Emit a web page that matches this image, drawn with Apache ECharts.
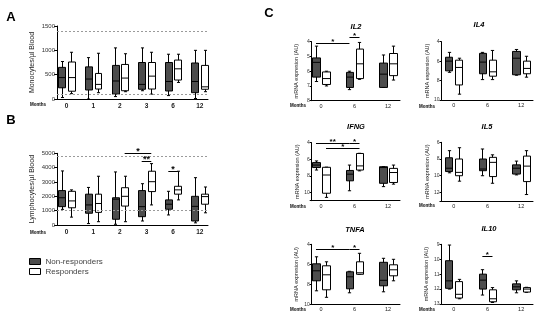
<!DOCTYPE html>
<html><head><meta charset="utf-8">
<script src="https://cdn.jsdelivr.net/npm/echarts@6/dist/echarts.min.js"></script>
<style>html,body{margin:0;padding:0;background:#fff}#c{width:550px;height:328px}</style>
</head><body><div id="c"></div>
<script>
// ---------- DATA ----------
const monthsAB = ['0', '1', '2', '3', '6', '12'];
const monthsC = ['0', '6', '12'];
// box statistics: [min, Q1, median, Q3, max]
const monoNon  = [[30,230,440,650,770],[0,185,410,660,850],[50,100,370,690,1050],[170,200,300,750,1050],[70,165,360,750,920],[10,130,360,740,1000]];
const monoResp = [[110,160,440,760,960],[130,205,300,525,940],[150,170,430,710,930],[100,205,470,750,960],[340,390,620,800,920],[150,200,250,690,1000]];
const monoRefs = [1400, 100];
const lymphNon  = [[1090,1280,1900,2400,3770],[100,820,1400,2150,2620],[50,400,1800,1900,3700],[280,580,1280,2400,2880],[700,1100,1450,1750,2350],[150,280,1300,2000,3300]];
const lymphResp = [[550,1200,1680,2350,2450],[230,880,1500,2150,3400],[230,1320,2000,2600,3400],[1400,2330,3020,3750,4280],[1750,2150,2450,2700,3750],[850,1450,1980,2150,2650]];
const lymphRefs = [4800, 1000];
const il2Non   = [[4.3,5.1,5.4,6.4,6.7],[6.0,6.08,6.4,7.1,7.25],[4.9,5.45,6.2,7.1,7.1]];
const il2Resp  = [[6.0,6.05,6.5,6.9,7.0],[4.05,4.5,5.5,6.5,6.55],[4.3,4.8,5.5,6.3,6.6]];
const il4Non   = [[5.1,5.6,6.0,7.0,7.15],[5.1,5.2,6.1,7.3,7.9],[4.8,5.0,5.7,7.4,7.45]];
const il4Resp  = [[5.7,5.9,6.65,8.45,9.4],[4.9,5.9,7.1,7.55,7.9],[5.5,6.0,6.75,7.3,7.65]];
const ifngNon  = [[6.2,6.4,6.7,7.0,7.3],[6.7,7.35,7.8,8.6,9.8],[6.88,6.9,7.0,8.9,9.3]];
const ifngResp = [[6.95,6.97,7.9,10.1,10.6],[5.28,5.3,6.8,7.3,7.4],[6.7,7.1,7.6,8.8,9.0]];
const il5Non   = [[7.0,7.85,9.1,9.5,9.65],[6.8,8.0,9.2,9.4,10.0],[8.25,8.7,9.1,9.8,9.9]];
const il5Resp  = [[6.65,8.0,9.6,10.0,10.65],[7.5,7.8,8.4,10.1,10.9],[7.0,7.65,8.85,10.7,12.25]];
const tnfaNon  = [[5.25,5.95,6.65,7.65,8.65],[6.7,6.75,7.25,8.45,8.85],[5.4,5.8,7.6,8.15,8.75]];
const tnfaResp = [[5.75,6.15,7.05,8.55,9.3],[4.9,5.75,6.85,7.0,7.0],[5.5,6.05,6.55,7.15,7.65]];
const il10Non  = [[9.05,10.1,11.45,11.95,12.0],[10.7,11.0,11.4,12.0,12.4],[11.45,11.65,11.85,12.05,12.25]];
const il10Resp = [[11.35,11.5,12.35,12.6,12.65],[11.9,12.05,12.65,12.85,12.9],[11.88,11.9,12.0,12.2,12.22]];
// significance: [category1, side1 (-1 non / +1 resp), category2, side2, value, label]
const sigLymph = [[2,1,3,1,5050,'*'],[3,-1,3,1,4450,'**'],[4,-1,4,1,3800,'*']];
const sigIL2  = [[0,-1,1,-1,4.07,'*'],[1,-1,1,1,3.7,'*']];
const sigIFNG = [[0,-1,1,-1,4.07,'**'],[0,1,1,1,4.67,'*'],[1,-1,1,1,4.0,'*']];
const sigTNFA = [[0,-1,1,-1,4.5,'*'],[1,-1,1,1,4.5,'*']];
const sigIL10 = [[1,-1,1,1,9.77,'*']];
const seriesNames = ['Non-responders', 'Responders'];

// ---------- LAYOUT ----------
const FONT = '"Liberation Sans", Arial, sans-serif';
const DARK = '#4d4d4d';
const mrna = 'mRNA expresion (AU)';
const panels = [
  {left:57, top:26, width:151, height:73, xmin:-0.36, xmax:5.31, ymin:0, ymax:1500, interval:500, inverse:false,
   cats:monthsAB, non:monoNon, resp:monoResp, refs:monoRefs, sig:[], yname:'Monocytes/µl Blood', nameGap:21, nameFs:7,
   off:0.18, bw:0.26, big:true},
  {left:57, top:153.3, width:151, height:71.7, xmin:-0.36, xmax:5.31, ymin:0, ymax:5000, interval:1000, inverse:false,
   cats:monthsAB, non:lymphNon, resp:lymphResp, refs:lymphRefs, sig:sigLymph, yname:'Lymphocytes/µl Blood', nameGap:21, nameFs:7,
   off:0.18, bw:0.26, big:true},
  {left:311.7, top:41.7, width:88.3, height:59, xmin:-0.278, xmax:2.36, ymin:4, ymax:8, interval:1, inverse:true,
   cats:monthsC, non:il2Non, resp:il2Resp, refs:[], sig:sigIL2, yname:mrna, nameGap:12, nameFs:5.5, off:0.15, bw:0.22},
  {left:441.5, top:41.7, width:91.5, height:58.3, xmin:-0.36, xmax:2.35, ymin:4, ymax:10, interval:2, inverse:true,
   cats:monthsC, non:il4Non, resp:il4Resp, refs:[], sig:[], yname:mrna, nameGap:7, nameFs:5.5, off:0.15, bw:0.22},
  {left:311.7, top:142.7, width:88.3, height:58, xmin:-0.278, xmax:2.36, ymin:4, ymax:11, interval:2, inverse:true,
   cats:monthsC, non:ifngNon, resp:ifngResp, refs:[], sig:sigIFNG, yname:mrna, nameGap:11, nameFs:5.5, off:0.15, bw:0.22},
  {left:441.5, top:142.3, width:91.5, height:58.5, xmin:-0.36, xmax:2.35, ymin:6, ymax:13, interval:2, inverse:true,
   cats:monthsC, non:il5Non, resp:il5Resp, refs:[], sig:[], yname:mrna, nameGap:9, nameFs:5.5, off:0.15, bw:0.22},
  {left:311.7, top:244.3, width:88.3, height:60, xmin:-0.278, xmax:2.36, ymin:4, ymax:10, interval:2, inverse:true,
   cats:monthsC, non:tnfaNon, resp:tnfaResp, refs:[], sig:sigTNFA, yname:mrna, nameGap:12, nameFs:5.5, off:0.15, bw:0.22},
  {left:441.5, top:244.3, width:91.5, height:59.7, xmin:-0.36, xmax:2.35, ymin:9, ymax:13, interval:1, inverse:true,
   cats:monthsC, non:il10Non, resp:il10Resp, refs:[], sig:sigIL10, yname:mrna, nameGap:12, nameFs:5.5, off:0.15, bw:0.22}
];

function boxRender(p, side, fill) {
  return function (params, api) {
    const i = api.value(0);
    const unit = api.size([1, 0])[0];
    const cx = api.coord([i, p.ymin])[0] + side * p.off * unit;
    const w = p.bw * unit;
    const yy = k => api.coord([i, api.value(k)])[1];
    const lo = yy(1), q1 = yy(2), md = yy(3), q3 = yy(4), hi = yy(5);
    const xl = Math.round(cx - w / 2) + 0.5, xr = Math.round(cx + w / 2) + 0.5, xc = Math.round(cx) + 0.5;
    const cap = Math.max(1.5, w * 0.22);
    const ls = {stroke: '#000', lineWidth: 1};
    return {type: 'group', children: [
      {type: 'line', shape: {x1: xc, y1: lo, x2: xc, y2: hi}, style: ls},
      {type: 'line', shape: {x1: xc - cap, y1: lo, x2: xc + cap, y2: lo}, style: ls},
      {type: 'line', shape: {x1: xc - cap, y1: hi, x2: xc + cap, y2: hi}, style: ls},
      {type: 'rect', shape: {x: xl, y: Math.min(q1, q3), width: xr - xl, height: Math.abs(q3 - q1)},
       style: {fill: fill, stroke: '#000', lineWidth: 1}},
      {type: 'line', shape: {x1: xl, y1: md, x2: xr, y2: md}, style: {stroke: '#000', lineWidth: 1}}
    ]};
  };
}
function sigRender(p) {
  return function (params, api) {
    const s = p.sig[params.dataIndex];
    const unit = api.size([1, 0])[0];
    const a = api.coord([s[0], s[4]]), b = api.coord([s[2], s[4]]);
    const x1 = a[0] + s[1] * p.off * unit, x2 = b[0] + s[3] * p.off * unit;
    const y = Math.round(a[1]) + 0.5;
    return {type: 'group', children: [
      {type: 'line', shape: {x1: x1, y1: y, x2: x2, y2: y}, style: {stroke: '#000', lineWidth: 1}},
      {type: 'text', x: (x1 + x2) / 2, y: y - 1.5,
       style: {text: s[5], fill: '#000', font: 'bold ' + (p.big ? 9 : 8) + 'px ' + FONT, align: 'center', verticalAlign: 'middle'}}
    ]};
  };
}

const grid = [], xAxis = [], yAxis = [], series = [];
panels.forEach((p, k) => {
  grid.push({left: p.left, top: p.top, width: p.width, height: p.height});
  xAxis.push({type: 'value', gridIndex: k, min: p.xmin, max: p.xmax,
    axisLine: {onZero: false, lineStyle: {color: '#000', width: 1}}, axisTick: {show: false}, splitLine: {show: false},
    axisLabel: {customValues: p.cats.map((c, i) => i), formatter: v => p.cats[Math.round(v)],
      fontSize: p.big ? 6.5 : 5.5, fontWeight: p.big ? 'bold' : 'normal', color: '#222', margin: p.big ? 4 : 2.5, fontFamily: FONT}});
  yAxis.push({type: 'value', gridIndex: k, min: p.ymin, max: p.ymax, interval: p.interval, inverse: p.inverse,
    name: p.yname, nameLocation: 'middle', nameGap: p.nameGap,
    nameTextStyle: {fontSize: p.nameFs, color: '#222', fontFamily: FONT},
    axisLine: {show: true, onZero: false, lineStyle: {color: '#000', width: 1}},
    axisTick: {show: true, length: p.big ? 3 : 2, lineStyle: {color: '#000'}}, splitLine: {show: false},
    axisLabel: {fontSize: p.big ? 6 : 5, color: '#333', margin: 2, fontFamily: FONT,
      formatter: v => (Math.abs(v % p.interval) < 1e-9 ? String(v) : '')}});
  const mk = (arr) => arr.map((b, i) => [i].concat(b));
  const nonS = {type: 'custom', name: seriesNames[0], xAxisIndex: k, yAxisIndex: k, data: mk(p.non),
    encode: {x: 0, y: [1, 2, 3, 4, 5]}, renderItem: boxRender(p, -1, DARK), clip: false, silent: true,
    itemStyle: {color: DARK, borderColor: '#000', borderWidth: 1}};
  if (p.refs.length) {
    nonS.markLine = {silent: true, symbol: ['none', 'none'], label: {show: false}, animation: false,
      lineStyle: {type: [2, 2], color: '#9a9a9a', width: 1}, data: p.refs.map(v => ({yAxis: v}))};
  }
  series.push(nonS);
  series.push({type: 'custom', name: seriesNames[1], xAxisIndex: k, yAxisIndex: k, data: mk(p.resp),
    encode: {x: 0, y: [1, 2, 3, 4, 5]}, renderItem: boxRender(p, 1, '#fff'), clip: false, silent: true,
    itemStyle: {color: '#fff', borderColor: '#000', borderWidth: 1}});
  if (p.sig.length) {
    series.push({type: 'custom', xAxisIndex: k, yAxisIndex: k, data: p.sig.map(s => [s[0], s[4]]),
      encode: {x: 0, y: 1}, renderItem: sigRender(p), clip: false, silent: true, z: 5});
  }
});

const txt = (t, x, y, font, extra) => Object.assign({type: 'text', x: x, y: y, silent: true,
  style: {text: t, font: font, fill: '#000', align: 'center', verticalAlign: 'middle'}}, extra || {});
const graphic = [
  txt('A', 11, 17, 'bold 13px ' + FONT),
  txt('B', 11, 120, 'bold 13px ' + FONT),
  txt('C', 269, 13, 'bold 13px ' + FONT),
  txt('IL2', 356, 27, 'italic bold 7.5px ' + FONT),
  txt('IL4', 479, 25, 'italic bold 7.5px ' + FONT),
  txt('IFNG', 356, 127, 'italic bold 7.5px ' + FONT),
  txt('IL5', 487, 127, 'italic bold 7.5px ' + FONT),
  txt('TNFA', 355, 230, 'italic bold 7.5px ' + FONT),
  txt('IL10', 489, 229, 'italic bold 7.5px ' + FONT),
  txt('Months', 38, 105, 'bold 4.5px ' + FONT),
  txt('Months', 38, 233, 'bold 4.5px ' + FONT),
  txt('Months', 298, 106, 'bold 4.5px ' + FONT),
  txt('Months', 427, 107, 'bold 4.5px ' + FONT),
  txt('Months', 298, 206.5, 'bold 4.5px ' + FONT),
  txt('Months', 427, 205.5, 'bold 4.5px ' + FONT),
  txt('Months', 298, 310, 'bold 4.5px ' + FONT),
  txt('Months', 427, 310, 'bold 4.5px ' + FONT)
];

const chart = echarts.init(document.getElementById('c'), null, {renderer: 'canvas'});
chart.setOption({
  animation: false,
  backgroundColor: '#fff',
  textStyle: {fontFamily: FONT},
  legend: {left: 29, top: 257.5, orient: 'vertical', icon: 'rect', itemWidth: 11, itemHeight: 6, itemGap: 2,
    padding: 0, selectedMode: false,
    textStyle: {fontSize: 8, color: '#444', fontFamily: FONT},
    data: [
      {name: seriesNames[0], itemStyle: {color: DARK, borderColor: '#000', borderWidth: 1}},
      {name: seriesNames[1], itemStyle: {color: '#fff', borderColor: '#000', borderWidth: 1}}
    ]},
  grid: grid, xAxis: xAxis, yAxis: yAxis, series: series, graphic: graphic
});
</script></body></html>
